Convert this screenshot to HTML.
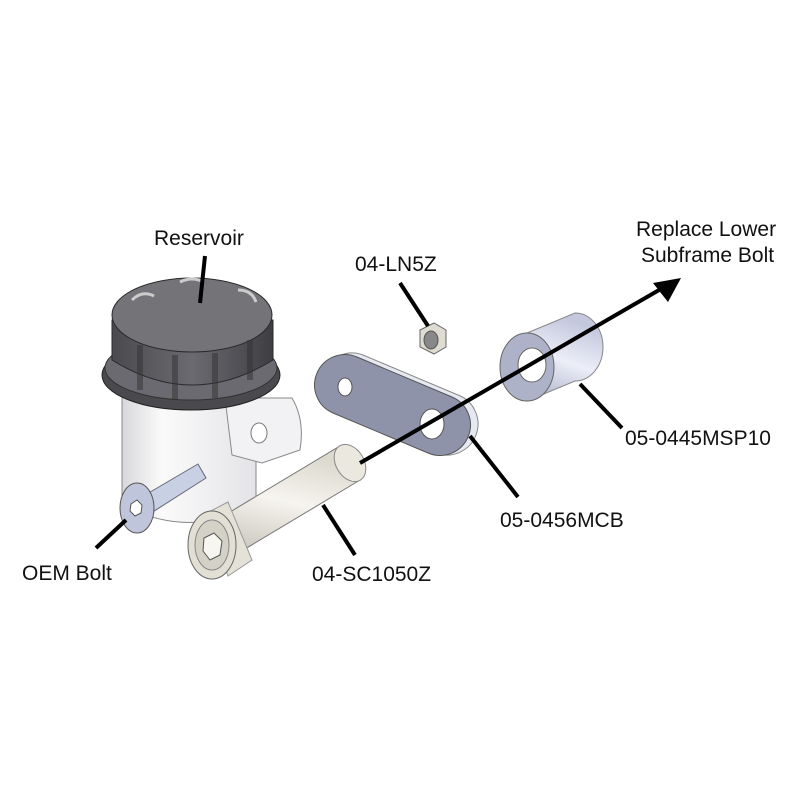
<!DOCTYPE html>
<html><head><meta charset="utf-8"><style>
html,body{margin:0;padding:0;background:#fff;}
svg{display:block;}
text{font-family:"Liberation Sans",Arial,sans-serif;font-size:21px;fill:#111;}
</style></head><body>
<svg width="800" height="800" viewBox="0 0 800 800" xmlns="http://www.w3.org/2000/svg">
<defs>
<linearGradient id="body" x1="0" x2="1"><stop offset="0" stop-color="#d8d8dc"/><stop offset="0.3" stop-color="#fafafa"/><stop offset="1" stop-color="#e4e4e8"/></linearGradient>
<linearGradient id="cap" x1="0" x2="1"><stop offset="0" stop-color="#4a4a4e"/><stop offset="0.5" stop-color="#6a6a70"/><stop offset="1" stop-color="#3e3e42"/></linearGradient>
<linearGradient id="cream" x1="0" y1="1" x2="0.3" y2="0"><stop offset="0" stop-color="#c9c6bc"/><stop offset="0.55" stop-color="#f6f4ee"/><stop offset="1" stop-color="#dcd9cf"/></linearGradient>
<linearGradient id="lav" x1="0" y1="1" x2="0.3" y2="0"><stop offset="0" stop-color="#a8acc4"/><stop offset="0.55" stop-color="#eceef8"/><stop offset="1" stop-color="#c4c8dc"/></linearGradient>
</defs>

<path d="M122 395 L122 505 Q190 540 256 505 L256 395 Z" fill="url(#body)" stroke="#888" stroke-width="1"/>
<path d="M225 398 L292 398 Q305 420 300 450 L262 463 L232 455 Z" fill="#f2f2f4" stroke="#888"/>
<ellipse cx="259" cy="433" rx="8" ry="10" fill="#fff" stroke="#777"/>
<ellipse cx="191" cy="375" rx="89" ry="35" fill="#4a4a4e" stroke="#222"/>
<ellipse cx="191" cy="368" rx="86" ry="32" fill="#6a6a70" stroke="#333"/>
<path d="M112 320 L112 360 Q192 410 273 360 L273 320 Z" fill="url(#cap)" stroke="#2a2a2e"/>
<ellipse cx="192" cy="315" rx="80" ry="37" fill="#747478" stroke="#2a2a2e"/>
<path d="M140 345 l0 45 M175 355 l0 45 M215 353 l0 45 M250 340 l0 40" stroke="#333" stroke-width="6" opacity="0.5"/>
<path d="M132 300 q10-10 22-4 M180 282 q12-6 24 0 M238 290 q14 0 18 12" stroke="#ccc" stroke-width="3" fill="none"/>

<path d="M140 498 L198 464 L206 478 L148 515 Z" fill="#c8d0e4" stroke="#667"/>
<ellipse cx="137" cy="508" rx="17" ry="25" fill="#bfc6dc" stroke="#555"/>
<polygon points="131,504 137,500 142,505 141,513 135,516 130,511" fill="#fff" stroke="#555"/>

<path d="M225 515 L340 446 L360 480 L245 549 Z" fill="url(#cream)" stroke="#777"/>
<ellipse cx="350" cy="463" rx="14" ry="20" transform="rotate(-31 350 463)" fill="#ebe8df" stroke="#888"/>
<path d="M205 514 L228 502 L252 560 L228 576 Z" fill="#e4e1d7" stroke="#999"/>
<ellipse cx="212" cy="545" rx="24" ry="34" fill="#e2dfd5" stroke="#666"/>
<ellipse cx="212" cy="545" rx="17" ry="25" fill="#d4d1c6" stroke="#888"/>
<polygon points="204,538 214,533 222,541 220,555 210,560 203,551" fill="#f8f6f0" stroke="#555"/>

<path d="M363 355 L458 395 A30 30 0 0 1 436 453 L341 413 A30 30 0 0 1 363 355 Z" fill="#e6e8f2" stroke="#888"/>
<path d="M357 357 L452 397 A30 30 0 0 1 428 453 L333 413 A30 30 0 0 1 357 357 Z" fill="#8e93aa" stroke="#555"/>
<ellipse cx="345" cy="387" rx="7" ry="9" fill="#fff" stroke="#555"/>
<ellipse cx="432" cy="424" rx="12" ry="15" fill="#fff" stroke="#555"/>

<polygon points="420,330 434,323 446,330 446,347 434,354 420,347" fill="#dedbd0" stroke="#666"/>
<ellipse cx="431" cy="340" rx="7" ry="9" fill="#888" stroke="#555"/>

<path d="M527 333 L575 313 A28 34 0 0 1 575 381 L527 401 Z" fill="url(#lav)" stroke="#888"/>
<ellipse cx="527" cy="367" rx="27" ry="34" fill="#aeb2c8" stroke="#666"/>
<ellipse cx="532" cy="365" rx="14" ry="17" fill="#fff" stroke="#666"/>

<g stroke="#000" stroke-width="4" fill="none">
<line x1="205" y1="256" x2="200" y2="303"/>
<line x1="400" y1="283" x2="428" y2="326"/>
<line x1="360" y1="463" x2="666" y2="286"/>
<line x1="580" y1="384" x2="622" y2="428"/>
<line x1="470" y1="436" x2="518" y2="497"/>
<line x1="323" y1="505" x2="355" y2="555"/>
<line x1="126" y1="520" x2="96" y2="548"/>
</g>
<polygon points="681,278 653,283 668,302" fill="#000"/>

<text x="154" y="245">Reservoir</text>
<text x="355" y="271">04-LN5Z</text>
<text x="636" y="236">Replace Lower</text>
<text x="641" y="262">Subframe Bolt</text>
<text x="625" y="445">05-0445MSP10</text>
<text x="500" y="527">05-0456MCB</text>
<text x="312" y="581">04-SC1050Z</text>
<text x="22" y="580">OEM Bolt</text>
</svg>
</body></html>
